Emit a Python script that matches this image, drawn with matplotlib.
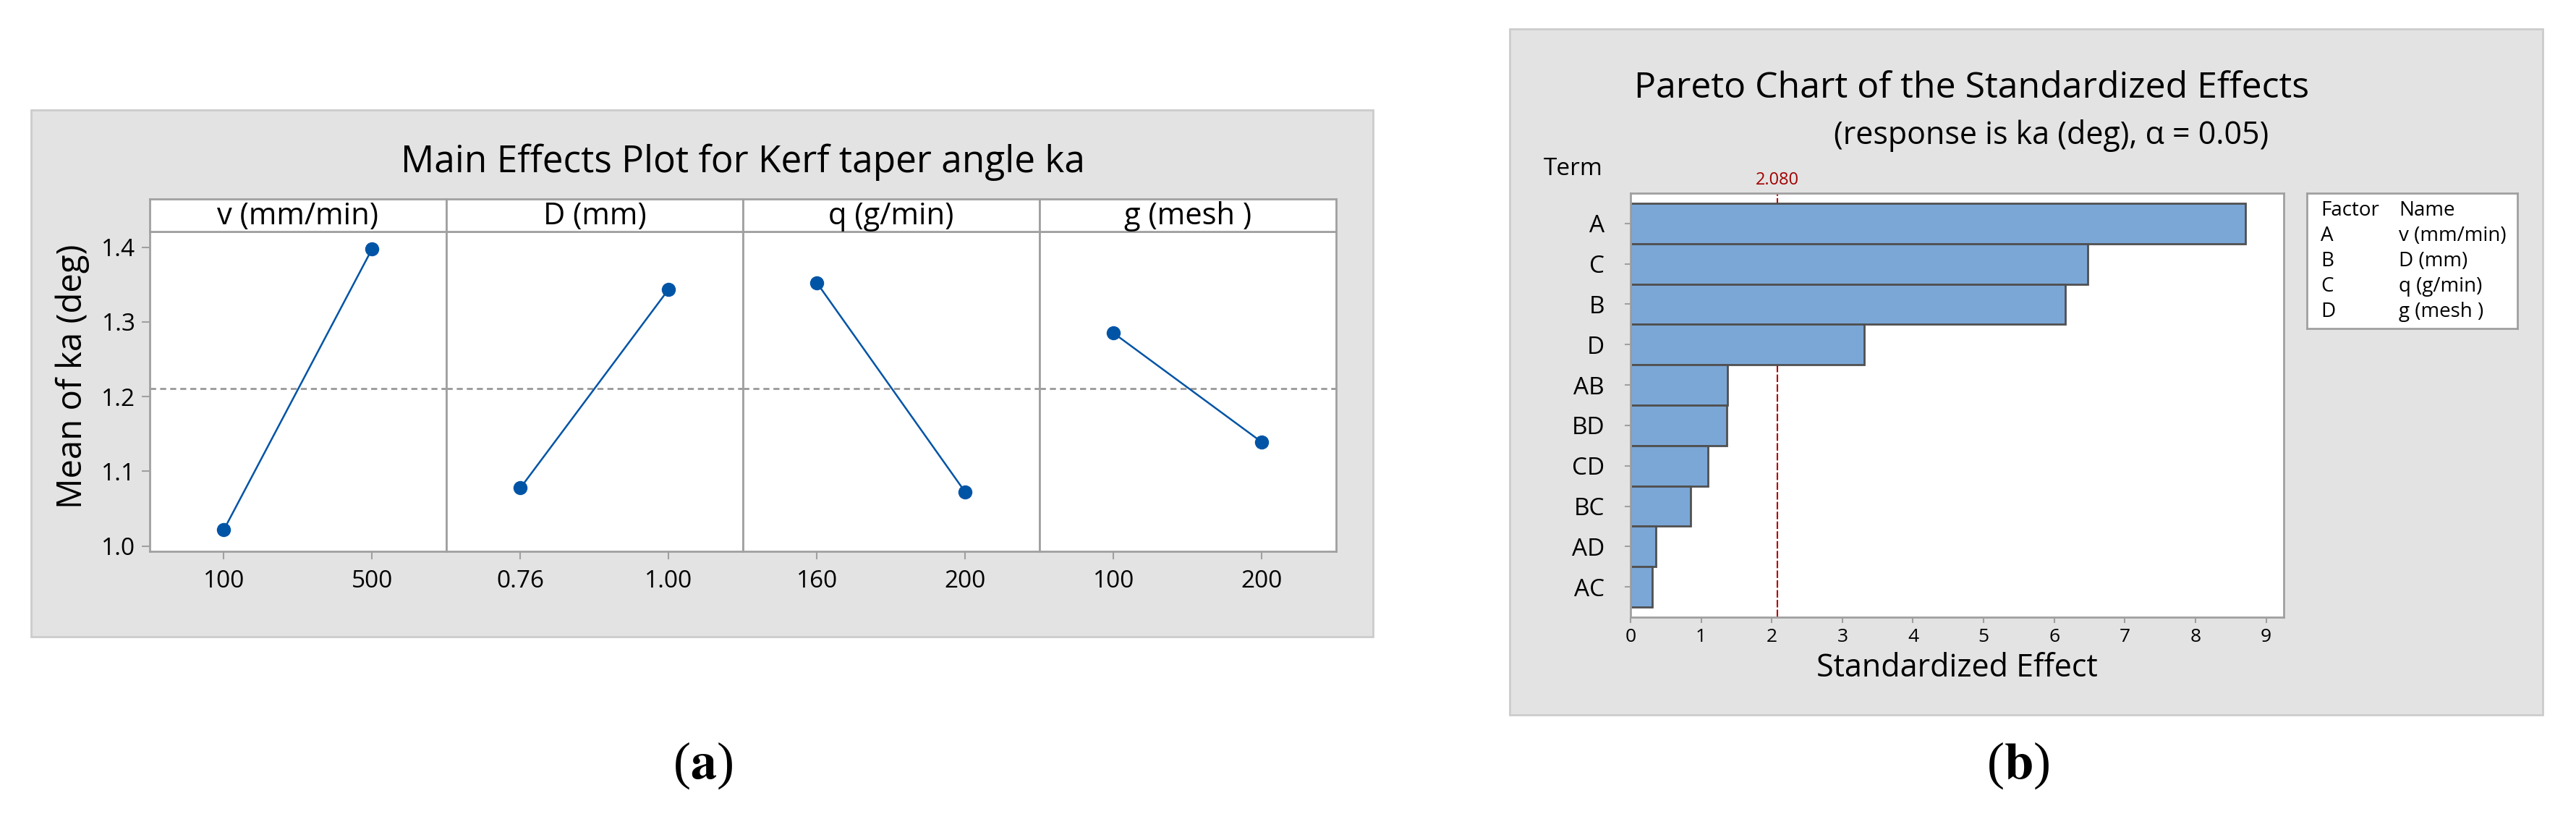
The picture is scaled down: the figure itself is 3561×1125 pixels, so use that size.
import matplotlib
matplotlib.use('Agg')
import matplotlib.pyplot as plt
import numpy as np
from matplotlib.patches import Rectangle

plt.rcParams['font.family'] = ['Open Sans', 'DejaVu Sans']
plt.rcParams['mathtext.fontset'] = 'stix'

# ── data ──────────────────────────────────────────────────────────────────────
FACTORS = ['v (mm/min)', 'D (mm)', 'q (g/min)', 'g (mesh )']
LEVELS = [['100', '500'], ['0.76', '1.00'], ['160', '200'], ['100', '200']]
MEANS = [[1.022, 1.398], [1.078, 1.344], [1.352, 1.072], [1.285, 1.139]]
GRAND_MEAN = 1.211

TERMS = ['A', 'C', 'B', 'D', 'AB', 'BD', 'CD', 'BC', 'AD', 'AC']
EFFECTS = [8.71, 6.47, 6.16, 3.31, 1.37, 1.36, 1.10, 0.85, 0.36, 0.31]
CRIT = 2.080

LEGEND_CODES = ['A', 'B', 'C', 'D']
LEGEND_NAMES = ['v (mm/min)', 'D (mm)', 'q (g/min)', 'g (mesh )']

# ── layout helpers (pixel coords of the 3562x1125 canvas) ─────────────────────
W, H = 3562, 1125
fig = plt.figure(figsize=(W / 100, H / 100), dpi=100)
fig.patch.set_facecolor('white')

def rect(l, t, r, b):
    return [l / W, 1 - b / H, (r - l) / W, (b - t) / H]

def px(x, y):
    return x / W, 1 - y / H

BG = '#e3e3e3'
FRAME = '#a0a0a0'
BLUE = '#0054a6'

for (l, t, r, b) in [(43, 152, 1898, 880), (2087, 40, 3515, 988)]:
    fig.add_artist(Rectangle((l / W, 1 - b / H), (r - l) / W, (b - t) / H,
                             transform=fig.transFigure, facecolor=BG,
                             edgecolor='#cccccc', linewidth=2, zorder=0))

# ── (a) main effects plot ─────────────────────────────────────────────────────
edges = [207, 617, 1027, 1437, 1847]
for i, name in enumerate(FACTORS):
    l, r = edges[i], edges[i + 1]
    ax = fig.add_axes(rect(l, 320, r, 762))
    ax.set_facecolor('white')
    ax.axhline(GRAND_MEAN, color='#999999', lw=2, dashes=(3, 2), zorder=1)
    ax.plot([0, 1], MEANS[i], color=BLUE, lw=1.8, marker='o', ms=13,
            mec=BLUE, mfc=BLUE, zorder=3)
    ax.set_xlim(-0.5, 1.5)
    ax.set_ylim(0.993, 1.421)
    ax.set_xticks([0, 1])
    ax.set_xticklabels(LEVELS[i])
    ax.tick_params(axis='x', length=8, width=1.5, color=FRAME,
                   labelsize=24, pad=10)
    if i == 0:
        ax.set_yticks([1.0, 1.1, 1.2, 1.3, 1.4])
        ax.set_yticklabels(['1.0', '1.1', '1.2', '1.3', '1.4'])
        ax.tick_params(axis='y', length=8, width=1.5, color=FRAME,
                       labelsize=24, pad=6)
    else:
        ax.set_yticks([])
    for s in ax.spines.values():
        s.set_color(FRAME)
        s.set_linewidth(2)

    sax = fig.add_axes(rect(l, 275, r, 320))
    sax.set_facecolor('white')
    sax.set_xticks([])
    sax.set_yticks([])
    for s in sax.spines.values():
        s.set_color(FRAME)
        s.set_linewidth(2)
    sax.text(0.5, 0.47, name, ha='center', va='center', fontsize=30,
             transform=sax.transAxes)

fig.text(*px(1027, 224), 'Main Effects Plot for Kerf taper angle ka',
         ha='center', va='center', fontsize=37)
fig.text(*px(100, 520), 'Mean of ka (deg)', ha='center', va='center',
         rotation=90, fontsize=34)

# ── (b) pareto chart ──────────────────────────────────────────────────────────
bx = fig.add_axes(rect(2254, 267, 3157, 853))
bx.set_facecolor('white')
y = np.arange(len(TERMS))
bx.barh(y, EFFECTS, height=1.0, color='#7ba7d7', edgecolor='#505050',
        linewidth=2, zorder=2)
bx.axvline(CRIT, color='#b00000', lw=1.5, dashes=(5, 1.5), zorder=1)
bx.set_ylim(9.75, -0.75)
bx.set_xlim(0, 9.25)
bx.set_xticks(range(10))
bx.set_yticks(y)
bx.set_yticklabels(TERMS)
bx.tick_params(axis='x', length=6, width=1.5, color=FRAME, labelsize=19, pad=5)
bx.tick_params(axis='y', length=6, width=1.5, color=FRAME, labelsize=24, pad=20)
for s in bx.spines.values():
    s.set_color(FRAME)
    s.set_linewidth(2)
bx.annotate(f'{CRIT:.3f}', xy=(CRIT, 1), xycoords=('data', 'axes fraction'),
            xytext=(0, 4), textcoords='offset points', ha='center', va='bottom',
            fontsize=17, color='#a00000')
bx.set_xlabel('Standardized Effect', fontsize=31, labelpad=6)

fig.text(*px(2726, 122), 'Pareto Chart of the Standardized Effects',
         ha='center', va='center', fontsize=36)
fig.text(*px(2836, 188), '(response is ka (deg), α = 0.05)',
         ha='center', va='center', fontsize=31)
fig.text(*px(2175, 234), 'Term', ha='center', va='center', fontsize=24)

lx = fig.add_axes(rect(3189, 267, 3480, 454))
lx.set_facecolor('white')
lx.set_xticks([])
lx.set_yticks([])
for s in lx.spines.values():
    s.set_color(FRAME)
    s.set_linewidth(2)
rows_y = [291, 326, 361, 396, 431]
fig.text(*px(3208, rows_y[0]), 'Factor', ha='left', va='center', fontsize=20)
fig.text(*px(3316, rows_y[0]), 'Name', ha='left', va='center', fontsize=20)
for code, nm, yy in zip(LEGEND_CODES, LEGEND_NAMES, rows_y[1:]):
    fig.text(*px(3208, yy), code, ha='left', va='center', fontsize=20)
    fig.text(*px(3316, yy), nm, ha='left', va='center', fontsize=20)

# ── panel letters ─────────────────────────────────────────────────────────────
for xx, letter in [(972, 'a'), (2790, 'b')]:
    fig.text(*px(xx, 1058), r'($\mathbf{%s}$)' % letter, ha='center',
             va='center', fontsize=52, family=['Liberation Serif'])

fig.savefig('out.png', dpi=100)
